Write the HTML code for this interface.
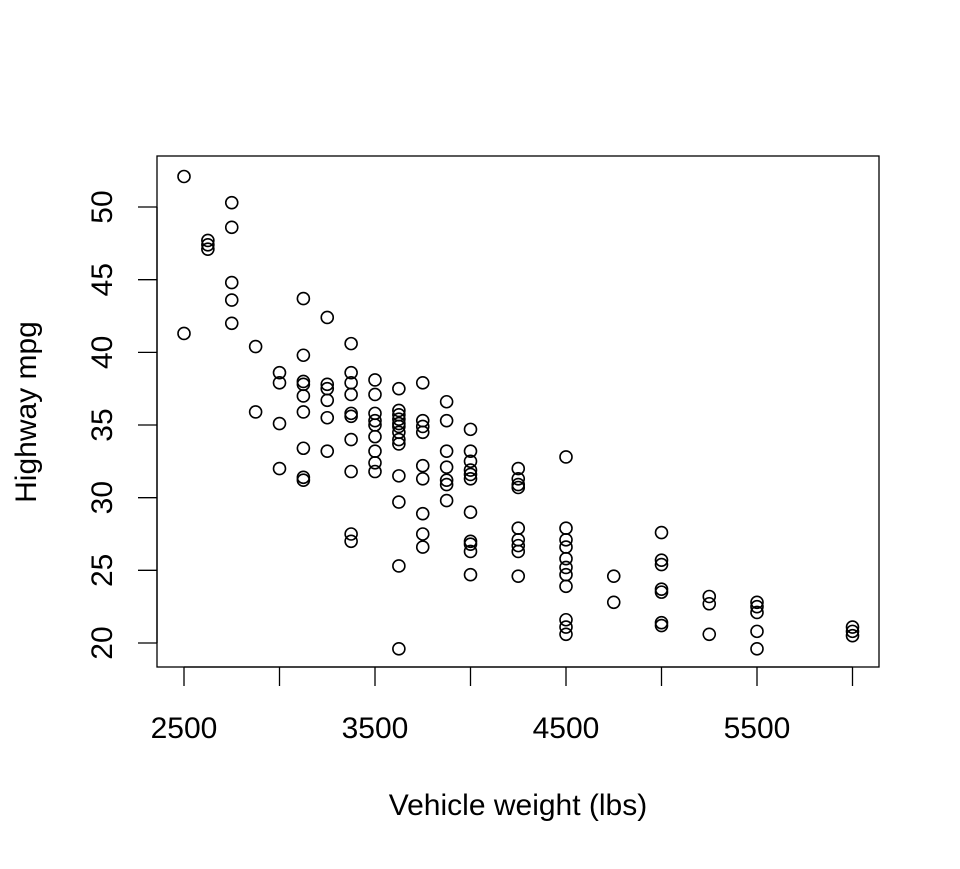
<!DOCTYPE html>
<html><head><meta charset="utf-8"><style>
body{margin:0;background:#fff}
svg text{font-family:"Liberation Sans",Arial,sans-serif;fill:#000}
</style></head><body>
<svg id="chart" width="960" height="864">
<rect x="157" y="156" width="722" height="511" fill="none" stroke="#000" stroke-width="1.3"/>
<g id="xaxis"></g>
<g id="yaxis"></g>
<g id="points"></g>
<text x="518" y="815" font-size="30" text-anchor="middle">Vehicle weight (lbs)</text>
<text transform="translate(36,412) rotate(-90)" font-size="30" text-anchor="middle">Highway mpg</text>
</svg>
<script>
const weights=[2500,2500,2625,2625,2625,2750,2750,2750,2750,2750,2875,2875,3000,3000,3000,3000,
3125,3125,3125,3125,3125,3125,3125,3125,3125,3250,3250,3250,3250,3250,3250,
3375,3375,3375,3375,3375,3375,3375,3375,3375,3375,3500,3500,3500,3500,3500,3500,3500,3500,3500,
3625,3625,3625,3625,3625,3625,3625,3625,3625,3625,3625,3625,3625,
3750,3750,3750,3750,3750,3750,3750,3750,3750,3875,3875,3875,3875,3875,3875,3875,
4000,4000,4000,4000,4000,4000,4000,4000,4000,4000,4000,
4250,4250,4250,4250,4250,4250,4250,4250,4250,
4500,4500,4500,4500,4500,4500,4500,4500,4500,4500,4500,
4750,4750,5000,5000,5000,5000,5000,5000,5000,5250,5250,5250,5500,5500,5500,5500,5500,6000,6000,6000];
const mpg=[52.1,41.3,47.7,47.4,47.1,50.3,48.6,44.8,43.6,42.0,40.4,35.9,38.6,37.9,35.1,32.0,
43.7,39.8,38.0,37.8,37.0,35.9,33.4,31.4,31.2,42.4,37.8,37.5,36.7,35.5,33.2,
40.6,38.6,37.9,37.1,35.8,35.6,34.0,31.8,27.5,27.0,38.1,37.1,35.8,35.3,35.0,34.2,33.2,32.4,31.8,
37.5,36.0,35.7,35.4,35.1,34.9,34.5,34.0,33.7,31.5,29.7,25.3,19.6,
37.9,35.3,34.9,34.5,32.2,31.3,28.9,27.5,26.6,36.6,35.3,33.2,32.1,31.2,30.9,29.8,
34.7,33.2,32.5,31.9,31.6,31.3,29.0,27.0,26.8,26.3,24.7,
32.0,31.3,30.9,30.7,27.9,27.1,26.7,26.3,24.6,
32.8,27.9,27.1,26.6,25.8,25.2,24.7,23.9,21.6,21.1,20.6,
24.6,22.8,27.6,25.7,25.4,23.7,23.5,21.4,21.2,23.2,22.7,20.6,22.8,22.5,22.1,20.8,19.6,21.1,20.8,20.5];
const xTicks=[2500,3000,3500,4000,4500,5000,5500,6000];
const xLabels=["2500","","3500","","4500","","5500",""];
const yTicks=[20,25,30,35,40,45,50];
const NS="http://www.w3.org/2000/svg";
function sx(v){return 184+(v-2500)*0.191;}
function sy(v){return 643-(v-20)*14.533;}
function mk(t,a,p){const e=document.createElementNS(NS,t);for(const k in a)e.setAttribute(k,a[k]);p.appendChild(e);return e;}
const xa=document.getElementById('xaxis'),ya=document.getElementById('yaxis'),pg=document.getElementById('points');
const xl=mk('line',{x1:sx(2500),x2:sx(6000),y1:667,y2:667,stroke:'#000','stroke-width':1.3},xa);


xTicks.forEach((t,i)=>{
 const l=mk('line',{x1:sx(t),x2:sx(t),y1:667,y2:686,stroke:'#000','stroke-width':1.3},xa);
 
 
 if(xLabels[i]){const tx=mk('text',{x:sx(t),y:738,'font-size':30,'text-anchor':'middle'},xa);tx.textContent=xLabels[i];
 
 }
});
const yl=mk('line',{x1:157,x2:157,y1:sy(20),y2:sy(50),stroke:'#000','stroke-width':1.3},ya);


yTicks.forEach(t=>{
 const l=mk('line',{x1:138,x2:157,y1:sy(t),y2:sy(t),stroke:'#000','stroke-width':1.3},ya);
 
 
 const tx=mk('text',{transform:`translate(112,${sy(t)}) rotate(-90)`,'font-size':30,'text-anchor':'middle'},ya);tx.textContent=t;
 
 
});
weights.forEach((w,i)=>{
 const c=mk('circle',{cx:sx(w),cy:sy(mpg[i]),r:6,fill:'none',stroke:'#000','stroke-width':1.6},pg);
 
 
});
</script>
</body></html>
